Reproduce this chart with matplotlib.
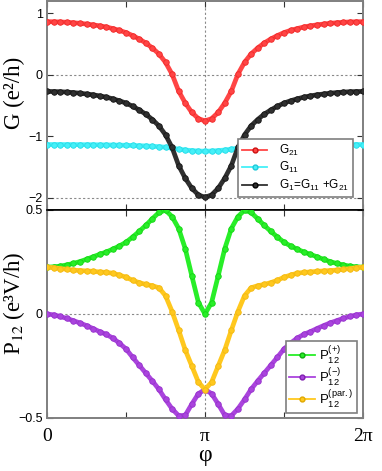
import numpy as np
import matplotlib
matplotlib.use("Agg")
import matplotlib.pyplot as plt
from matplotlib.lines import Line2D

# phase grid: 0 .. 2*pi in steps of pi/24 (49 points)
phi_steps = list(range(49))

G21 = [0.864, 0.862, 0.859, 0.854, 0.846, 0.837, 0.825, 0.812, 0.796, 0.777, 0.751, 0.722, 0.686,
       0.638, 0.582, 0.517, 0.436, 0.339, 0.202, 0.009, -0.266, -0.459, -0.613, -0.714,
       -0.750,
       -0.714, -0.613, -0.459, -0.266, 0.009, 0.202, 0.339, 0.436, 0.517, 0.582, 0.638,
       0.686, 0.722, 0.751, 0.777, 0.796, 0.812, 0.825, 0.837, 0.846, 0.854, 0.859, 0.862, 0.864]
G11 = [-1.135, -1.135, -1.135, -1.136, -1.136, -1.137, -1.138, -1.138, -1.140, -1.141, -1.143, -1.145,
       -1.147, -1.150, -1.154, -1.158, -1.164, -1.170, -1.179, -1.192, -1.211, -1.224, -1.234, -1.241,
       -1.243,
       -1.241, -1.234, -1.224, -1.211, -1.192, -1.179, -1.170, -1.164, -1.158, -1.154, -1.150,
       -1.147, -1.145, -1.143, -1.141, -1.140, -1.138, -1.138, -1.137, -1.136, -1.136, -1.135, -1.135, -1.135]
G1 = [-0.271, -0.273, -0.276, -0.282, -0.290, -0.300, -0.313, -0.326, -0.344, -0.364, -0.392, -0.423,
      -0.461, -0.512, -0.572, -0.641, -0.728, -0.831, -0.977, -1.183, -1.477, -1.683, -1.847, -1.955,
      -1.993,
      -1.955, -1.847, -1.683, -1.477, -1.183, -0.977, -0.831, -0.728, -0.641, -0.572, -0.512,
      -0.461, -0.423, -0.392, -0.364, -0.344, -0.326, -0.313, -0.300, -0.290, -0.282, -0.276, -0.273, -0.271]

P_plus = [0.225, 0.227, 0.230, 0.236, 0.243, 0.252, 0.263, 0.275, 0.287, 0.298, 0.312, 0.327,
          0.345, 0.370, 0.397, 0.426, 0.458, 0.488, 0.499, 0.468, 0.411, 0.314, 0.183, 0.055,
          0.000,
          0.055, 0.183, 0.314, 0.411, 0.468, 0.499, 0.488, 0.458, 0.426, 0.397, 0.370,
          0.345, 0.327, 0.312, 0.298, 0.287, 0.275, 0.263, 0.252, 0.243, 0.236, 0.230, 0.227, 0.225]
P_minus = [0.000, -0.004, -0.012, -0.021, -0.032, -0.043, -0.056, -0.070, -0.085, -0.098, -0.116, -0.140,
           -0.168, -0.208, -0.246, -0.284, -0.322, -0.362, -0.411, -0.456, -0.489, -0.487, -0.433, -0.383,
           -0.363,
           -0.383, -0.433, -0.487, -0.489, -0.456, -0.411, -0.362, -0.322, -0.284, -0.246, -0.208,
           -0.168, -0.140, -0.116, -0.098, -0.085, -0.070, -0.056, -0.043, -0.032, -0.021, -0.012, -0.004, 0.000]
P_par = [0.225, 0.223, 0.218, 0.215, 0.211, 0.209, 0.207, 0.205, 0.202, 0.200, 0.196, 0.187,
         0.177, 0.162, 0.151, 0.142, 0.136, 0.126, 0.088, 0.012, -0.078, -0.173, -0.250, -0.328,
         -0.363,
         -0.328, -0.250, -0.173, -0.078, 0.012, 0.088, 0.126, 0.136, 0.142, 0.151, 0.162,
         0.177, 0.187, 0.196, 0.200, 0.202, 0.205, 0.207, 0.209, 0.211, 0.215, 0.218, 0.223, 0.225]

xtick_labels = ["0", "", "\u03c0", "", "2\u03c0"]
g_ticks = [-2, -1, 0, 1]
g_ticklabels = ["\u22122", "\u22121", "0", "1"]
p_ticks = [-0.5, 0, 0.5]
p_ticklabels = ["\u22120.5", "0", "0.5"]

phi = np.array(phi_steps) * np.pi / 24

plt.rcParams['font.family'] = ['Liberation Sans', 'DejaVu Sans']
plt.rcParams['mathtext.fontset'] = 'custom'
plt.rcParams['mathtext.rm'] = 'Liberation Sans'
plt.rcParams['mathtext.default'] = 'rm'

fig = plt.figure(figsize=(3.82, 4.71), dpi=100)
L, R = 47 / 382, 363 / 382
ax1 = fig.add_axes([L, 1 - 210 / 471, R - L, 209 / 471])
ax2 = fig.add_axes([L, 1 - 418 / 471, R - L, 208 / 471])

GRAY = '#7f7f7f'
dot = dict(color='#8a8a8a', lw=0.8, ls=(0, (2, 2)), zorder=0)


def series(ax, y, col, edge):
    ax.plot(phi, y, color=col, lw=3.4, marker='o', ms=4.0, mfc=col, mec=edge, mew=0.6,
            solid_capstyle='round', zorder=3)


# top panel
ax1.axhline(0, **dot)
ax1.axhline(-2, **dot)
ax1.axvline(np.pi, **dot)
series(ax1, G21, '#ff4545', '#f02828')
series(ax1, G11, '#45f0f8', '#25dce8')
series(ax1, G1, '#303030', '#151515')
ax1.set_ylim(-2.2, 1.2)
ax1.set_yticks(g_ticks)
ax1.set_yticklabels(g_ticklabels)

# bottom panel
ax2.axhline(0, **dot)
ax2.axvline(np.pi, **dot)
series(ax2, P_plus, '#28ee28', '#14d414')
series(ax2, P_minus, '#aa44dd', '#9632cc')
series(ax2, P_par, '#ffc81e', '#f2b812')
ax2.set_ylim(-0.5, 0.5)
ax2.set_yticks(p_ticks)
ax2.set_yticklabels(p_ticklabels)

for ax in (ax1, ax2):
    ax.set_xlim(0, 2 * np.pi)
    ax.set_xticks([0, np.pi / 2, np.pi, 3 * np.pi / 2, 2 * np.pi])
    ax.tick_params(direction='in', top=True, right=True, length=4, width=0.8,
                   labelsize=9, pad=3, colors='#333333', labelcolor='black')
    for s in ax.spines.values():
        s.set_color(GRAY)
        s.set_linewidth(1.4)

ax1.spines['bottom'].set_color('black')
ax1.spines['bottom'].set_linewidth(1.2)
ax2.spines['top'].set_color('black')
ax2.spines['top'].set_linewidth(1.2)
ax1.tick_params(axis='x', labelbottom=False)
ax2.set_xticklabels(xtick_labels)
ax2.tick_params(axis='x', pad=7)
for t in ax2.get_xticklabels():
    t.set_fontsize(14)
    t.set_family('Liberation Serif')

ax2.set_xlabel("\u03c6", fontsize=17, family='Liberation Serif', labelpad=0)
ax1.set_ylabel("G (e\u00b2/h)", fontsize=16.5, family='Liberation Serif')
ax2.set_ylabel("P$_{12}$ (e\u00b3V/h)", fontsize=16.5, family='Liberation Serif',
               math_fontfamily='stix')
ax1.yaxis.set_label_coords(-0.068, 0.56)
ax2.yaxis.set_label_coords(-0.062, 0.55)


def leg_handles(cols):
    return [Line2D([0], [0], color=c, lw=1.3, marker='o', ms=3.5, mfc=c, mec=e) for c, e in cols]


l1 = ax1.legend(leg_handles([('#ff4545', '#cc1010'), ('#45f0f8', '#20c8d8'), ('#303030', '#000000')]),
                [r'G$_{21}$', r'G$_{11}$', r'G$_1$=G$_{11}$ +G$_{21}$'],
                loc='lower right', bbox_to_anchor=(0.968, 0.062), borderaxespad=0,
                fontsize=8.5, fancybox=False, framealpha=1, edgecolor=GRAY,
                handlelength=2.1, labelspacing=0.2, borderpad=0.35, handletextpad=1.0)
l1.get_frame().set_linewidth(1.2)
l2 = ax2.legend(leg_handles([('#28ee28', '#10aa10'), ('#aa44dd', '#8020b0'), ('#ffc81e', '#e0a800')]),
                [r'P$_{12}^{(+)}$', r'P$_{12}^{(-)}$', r'P$_{12}^{(par.)}$'],
                loc='lower right', bbox_to_anchor=(0.981, 0.025), borderaxespad=0,
                fontsize=9.5, fancybox=False, framealpha=1, edgecolor=GRAY,
                handlelength=2.0, labelspacing=0.0, borderpad=0.25, handletextpad=0.3)
l2.get_frame().set_linewidth(1.2)

fig.savefig("out.png", dpi=100)
